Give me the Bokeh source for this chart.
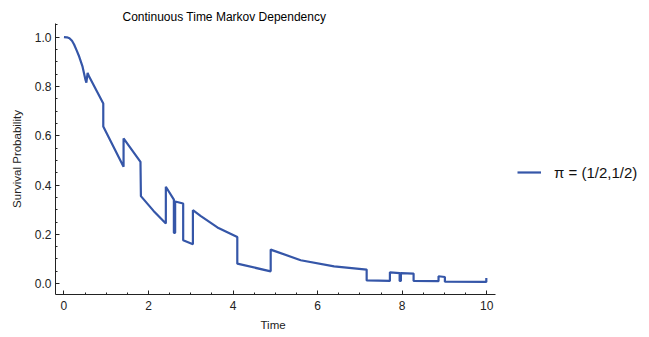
from bokeh.plotting import figure
from bokeh.models import ColumnDataSource, SingleIntervalTicker, Range1d, Legend, LegendItem, CustomJSTickFormatter, Title
from bokeh.embed import file_html
from bokeh.resources import INLINE

# Survival curve (time, survival probability)
times = [0.00, 0.07, 0.13, 0.19, 0.24, 0.30, 0.36, 0.44, 0.51, 0.53, 0.56, 0.58,
         0.93, 0.93, 1.41, 1.41, 1.81, 1.82, 2.12, 2.41, 2.41, 2.60, 2.60, 2.63, 2.63,
         2.82, 2.82, 3.05, 3.05, 3.23, 3.63, 4.10, 4.10, 4.89, 4.89, 5.60, 6.39, 7.16,
         7.16, 7.71, 7.71, 7.94, 7.94, 7.97, 7.97, 8.27, 8.27, 8.86, 8.86, 9.01, 9.01,
         9.99, 9.99]
survival = [1.000, 0.999, 0.995, 0.985, 0.970, 0.946, 0.921, 0.880, 0.826, 0.815, 0.855, 0.845,
            0.731, 0.637, 0.474, 0.589, 0.494, 0.355, 0.295, 0.244, 0.393, 0.341, 0.206, 0.206, 0.333,
            0.325, 0.176, 0.160, 0.298, 0.275, 0.228, 0.189, 0.081, 0.050, 0.138, 0.095, 0.070, 0.057,
            0.013, 0.011, 0.046, 0.043, 0.011, 0.011, 0.043, 0.041, 0.011, 0.010, 0.030, 0.027, 0.008,
            0.007, 0.023]
series_label = "\u03c0 = (1/2,1/2)"
title_text = "Continuous Time Markov Dependency"
x_label = "Time"
y_label = "Survival Probability"

FONT = "Liberation Sans"
src = ColumnDataSource(data=dict(t=times, s=survival))

p = figure(width=649, height=337, output_backend="svg", toolbar_location=None,
           x_range=Range1d(-0.2, 13.85), y_range=Range1d(-0.044, 1.055),
           min_border_left=55, min_border_right=0, min_border_top=23, min_border_bottom=43)
p.outline_line_color = None
p.grid.visible = False
p.background_fill_color = "white"
p.border_fill_color = "white"

r = p.line(x="t", y="s", source=src, line_color="#3556A8", line_width=2.2)

p.title.text = title_text
p.title.align = "left"
p.title.offset = 67
p.title.text_font = FONT
p.title.text_font_size = "12px"
p.title.text_font_style = "normal"
p.title.text_color = "#000000"
p.title.standoff = 0

p.xaxis.ticker = SingleIntervalTicker(interval=2, num_minor_ticks=4)
p.xaxis.bounds = (-0.2, 10.2)
p.yaxis.ticker = SingleIntervalTicker(interval=0.2, num_minor_ticks=4)
p.yaxis.formatter = CustomJSTickFormatter(code="return tick.toFixed(1);")

for ax in (p.xaxis, p.yaxis):
    ax.axis_line_color = "#222222"
    ax.major_tick_line_color = "#222222"
    ax.minor_tick_line_color = "#222222"
    ax.major_tick_in = 4
    ax.major_tick_out = 0
    ax.minor_tick_in = 2
    ax.minor_tick_out = 0
    ax.major_label_text_font = FONT
    ax.major_label_text_font_size = "12px"
    ax.major_label_text_color = "#222222"
    ax.axis_label_text_font = FONT
    ax.axis_label_text_font_size = "11.5px"
    ax.axis_label_text_font_style = "normal"
    ax.axis_label_text_color = "#222222"

p.yaxis.axis_label = y_label
p.xaxis.major_label_standoff = 6
p.yaxis.major_label_standoff = 4
p.yaxis.axis_label_standoff = 9

# x-axis label centred under the axis (the frame is wider to host the legend)
xt = Title(text=x_label, align="left", offset=205, text_font=FONT, text_font_size="11.5px",
           text_font_style="normal", text_color="#222222", standoff=9)
p.add_layout(xt, "below")

legend = Legend(items=[LegendItem(label=series_label, renderers=[r])],
                location=(462, 112), padding=0, margin=0, glyph_width=24,
                label_standoff=13, border_line_alpha=0, background_fill_alpha=0,
                label_text_font=FONT, label_text_font_size="15px", label_text_color="#111111")
p.add_layout(legend)

open("out.html", "w").write(file_html(p, INLINE))
